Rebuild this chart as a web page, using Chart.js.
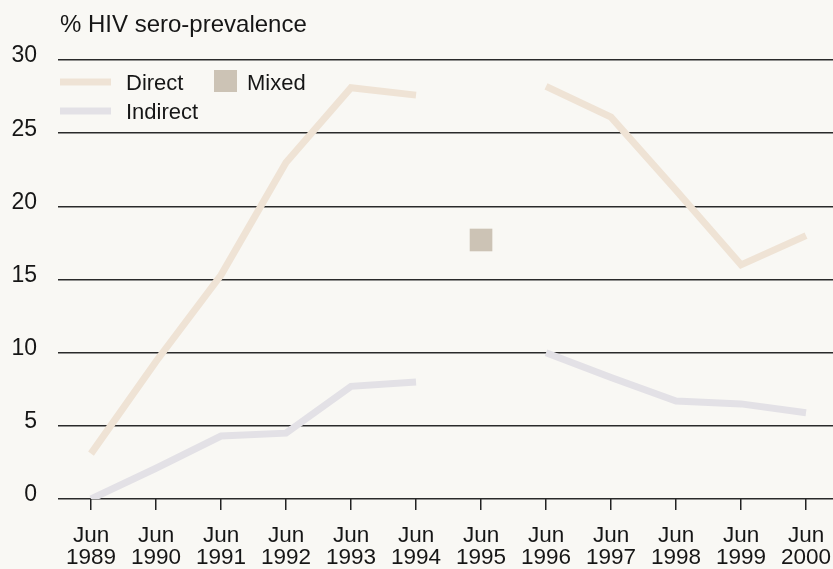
<!DOCTYPE html>
<html>
<head>
<meta charset="utf-8">
<script src="https://cdn.jsdelivr.net/npm/chart.js@4"></script>
<style>
  html, body { margin: 0; padding: 0; background: #f9f8f4; }
  #wrap { width: 833px; height: 569px; position: relative; }
</style>
</head>
<body>
<div id="wrap"><canvas id="hivChart"></canvas></div>
<script>
// Data
const months = ['Jun', 'Jun', 'Jun', 'Jun', 'Jun', 'Jun', 'Jun', 'Jun', 'Jun', 'Jun', 'Jun', 'Jun'];
const years = ['1989', '1990', '1991', '1992', '1993', '1994', '1995', '1996', '1997', '1998', '1999', '2000'];
const direct = [3.1, 9.4, 15.3, 23.0, 28.1, 27.6, null, 28.2, 26.1, 21.1, 16.0, 18.0];
const indirect = [0.0, 2.1, 4.3, 4.5, 7.7, 8.0, null, 10.0, 8.3, 6.7, 6.5, 5.9];
const mixed = [null, null, null, null, null, null, 17.7, null, null, null, null, null];
const yTicks = [0, 5, 10, 15, 20, 25, 30];

const FONT = '"Liberation Sans", Arial, Helvetica, sans-serif';
const TEXT = '#161616';
const toPoints = arr => arr.map((v, i) => ({ x: i, y: v }));

// title + legend drawn on the canvas
const extras = {
    id: 'extras',
    afterDraw(chart) {
        const ctx = chart.ctx;
        const ds = chart.data.datasets;
        ctx.save();
        ctx.fillStyle = TEXT;
        ctx.textAlign = 'left';
        ctx.textBaseline = 'alphabetic';
        ctx.font = '24px ' + FONT;
        ctx.fillText('% HIV sero-prevalence', 60, 32);

        ctx.font = '22px ' + FONT;
        // line samples
        [[ds[0], 82], [ds[1], 111]].forEach(([d, y]) => {
            ctx.strokeStyle = d.borderColor;
            ctx.lineWidth = 7;
            ctx.beginPath();
            ctx.moveTo(60, y);
            ctx.lineTo(111, y);
            ctx.stroke();
            ctx.fillStyle = TEXT;
            ctx.fillText(d.label, 126, y + 7.5);
        });
        // mixed square
        ctx.fillStyle = ds[2].backgroundColor;
        ctx.fillRect(214, 70, 23, 22);
        ctx.fillStyle = TEXT;
        ctx.fillText(ds[2].label, 247, 89.5);
        ctx.restore();
    }
};

const ctx = document.getElementById('hivChart').getContext('2d');
const hivChart = new Chart(ctx, {
    type: 'line',
    data: {
        datasets: [{
            label: 'Direct',
            data: toPoints(direct),
            borderColor: '#efe3d5',
            borderWidth: 7,
            borderJoinStyle: 'miter',
            pointRadius: 0,
            spanGaps: false,
            tension: 0
        }, {
            label: 'Indirect',
            data: toPoints(indirect),
            borderColor: '#e3e1e6',
            borderWidth: 7,
            borderJoinStyle: 'miter',
            pointRadius: 0,
            spanGaps: false,
            tension: 0
        }, {
            label: 'Mixed',
            data: toPoints(mixed),
            showLine: false,
            pointStyle: 'rect',
            pointRadius: 16,
            backgroundColor: '#ccc3b5',
            borderColor: '#ccc3b5',
            borderWidth: 0
        }]
    },
    options: {
        responsive: true,
        maintainAspectRatio: false,
        animation: false,
        layout: { autoPadding: false, padding: { top: 60, left: 0, right: 0, bottom: 0 } },
        plugins: {
            legend: { display: false },
            tooltip: { enabled: false }
        },
        scales: {
            x: {
                type: 'linear',
                min: -0.508,
                max: 11.415,
                afterBuildTicks: scale => {
                    scale.ticks = years.map((_, i) => ({ value: i }));
                },
                afterFit: scale => {
                    scale.height = 70;
                    scale.paddingLeft = 0;
                    scale.paddingRight = 0;
                },
                border: { display: false },
                grid: {
                    drawOnChartArea: false,
                    drawTicks: true,
                    tickLength: 11,
                    color: '#222',
                    lineWidth: 1.5
                },
                ticks: {
                    autoSkip: false,
                    maxRotation: 0,
                    padding: 15,
                    color: TEXT,
                    font: { family: FONT, size: 22.5, lineHeight: 0.98 },
                    callback: v => [months[v], years[v]]
                }
            },
            y: {
                min: 0,
                max: 30,
                afterBuildTicks: scale => {
                    scale.ticks = yTicks.map(v => ({ value: v }));
                },
                afterFit: scale => {
                    scale.width = 58;
                },
                border: { display: false },
                grid: {
                    drawTicks: false,
                    color: '#2a2a2a',
                    lineWidth: 1.5
                },
                ticks: {
                    padding: 21,
                    labelOffset: -4,
                    color: TEXT,
                    font: { family: FONT, size: 23 }
                }
            }
        }
    },
    plugins: [extras]
});
</script>
</body>
</html>
